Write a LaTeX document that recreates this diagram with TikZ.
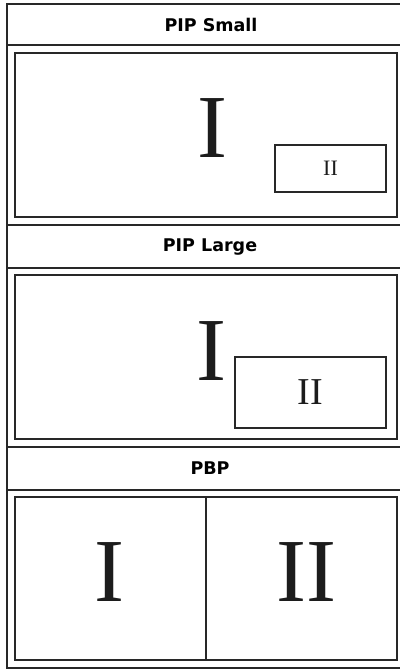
\documentclass[tikz,border=0pt]{standalone}
\usepackage{fontspec}
\setmainfont{Liberation Serif}
\setsansfont{DejaVu Sans}
\usepackage{tikz}
\usetikzlibrary{positioning}
\definecolor{mydark}{RGB}{40,40,40}
\definecolor{myink}{RGB}{28,28,28}
\tikzset{
  frame/.style={draw=mydark, line width=2pt},
  screen/.style={rectangle, draw=mydark, line width=1.4pt, inner sep=0pt},
  header/.style={font=\sffamily\bfseries\fontsize{17.5}{20}\selectfont, text=black},
  bignum/.style={font=\fontsize{90}{90}\selectfont, inner sep=0pt, text=myink},
  smallnum/.style={font=\fontsize{22}{22}\selectfont, inner sep=0pt, text=myink},
  midnum/.style={font=\fontsize{38}{38}\selectfont, inner sep=0pt, text=myink}
}
\begin{document}
\begin{tikzpicture}[x=1pt, y=-1pt]
  \useasboundingbox (0,0) rectangle (399,669);
  % Outer frame and bands
  \draw[frame] (7,4) rectangle (412,668);
  \draw[frame] (7,45) -- (412,45);
  \draw[frame] (7,225) -- (412,225);
  \draw[frame] (7,268) -- (412,268);
  \draw[frame] (7,447) -- (412,447);
  \draw[frame] (7,490) -- (412,490);

  % PIP Small
  \node[header] (hdrsmall) at (211,25) {PIP Small};
  \node[screen, minimum width=382pt, minimum height=164pt] (scrsmall) at (206,135) {};
  \node[bignum] (mainsmall) at (212,128) {I};
  \node[screen, minimum width=111pt, minimum height=47pt] (pipsmall) at (330.5,168.5) {};
  \node[smallnum] at (pipsmall.center) {II};

  % PIP Large
  \node[header] (hdrlarge) at (210,247) {PIP Large};
  \node[screen, minimum width=382pt, minimum height=164pt] (scrlarge) at (206,357) {};
  \node[bignum] (mainlarge) at (211,351) {I};
  \node[screen, minimum width=151pt, minimum height=71pt] (piplarge) at (310.5,392.5) {};
  \node[midnum] at (piplarge.center) {II};

  % PBP
  \node[header] (hdrpbp) at (210,468) {PBP};
  \node[screen, minimum width=382pt, minimum height=163pt] (scrpbp) at (206,578.5) {};
  \draw[mydark, line width=1.2pt] (scrpbp.north) -- (scrpbp.south);
  \node[bignum] (leftpbp) at (109.5,572) {I};
  \node[bignum] (rightpbp) at (306,572) {II};
\end{tikzpicture}
\end{document}
